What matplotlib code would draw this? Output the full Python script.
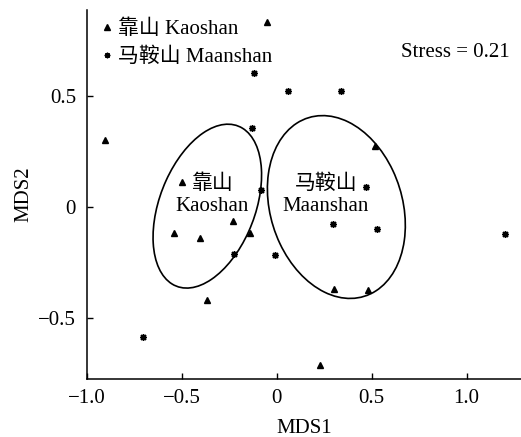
import numpy as np
import matplotlib
matplotlib.use('Agg')
import matplotlib.pyplot as plt
from matplotlib.patches import Ellipse

plt.rcParams['font.family'] = ['Liberation Serif', 'Noto Sans CJK SC']
plt.rcParams['axes.unicode_minus'] = True

# NMDS site scores, two hills
kaoshan_x = [-0.906, -0.051, 0.520, -0.500, -0.540, -0.402, -0.233, -0.142, -0.367, 0.304, 0.481, 0.227]
kaoshan_y = [0.300, 0.832, 0.273, 0.110, -0.120, -0.140, -0.066, -0.120, -0.420, -0.371, -0.375, -0.714]
maanshan_x = [-0.121, 0.061, 0.341, -0.128, -0.082, 0.468, 0.295, 0.528, 1.203, -0.224, -0.007, -0.707]
maanshan_y = [0.601, 0.523, 0.523, 0.353, 0.075, 0.090, -0.079, -0.100, -0.123, -0.214, -0.218, -0.586]

# group ellipses: centre, full width, full height, angle (deg)
ell_centers = [(-0.366, 0.003), (0.314, -0.001)]
ell_widths = [0.794, 0.863]
ell_heights = [0.492, 0.680]
ell_angles = [62.1, 118.9]
ell_labels = ['靠山\nKaoshan', '马鞍山\nMaanshan']
label_pos = [(-0.34, 0.052), (0.258, 0.052)]

stress = 0.21

fig = plt.figure(figsize=(5.21, 4.37), dpi=100)
ax = fig.add_axes([0.167, 0.1327, 0.833, 0.844])

ax.plot(kaoshan_x, kaoshan_y, ls='none', marker='^', ms=5, color='black',
        label='靠山 Kaoshan')
ax.plot(maanshan_x, maanshan_y, ls='none', marker=(8, 2, 0), ms=5, mew=1.0,
        color='black', label='马鞍山 Maanshan')

for c, w, h, a in zip(ell_centers, ell_widths, ell_heights, ell_angles):
    ax.add_patch(Ellipse(c, w, h, angle=a, fill=False, ec='black', lw=1.2))
for (lx, ly), txt in zip(label_pos, ell_labels):
    ax.text(lx, ly, txt, ha='center', va='center', fontsize=15, linespacing=1.2)

ax.text(1.229, 0.697, 'Stress = %.2f' % stress, ha='right', va='center', fontsize=15)

leg = ax.legend(loc='upper left', bbox_to_anchor=(0.0, 1.015), frameon=False,
                fontsize=15, handlelength=0.5, handletextpad=0.3,
                labelspacing=0.42, borderaxespad=0.3, markerscale=0.8)

ax.set_xlim(-1.0, 1.287)
ax.set_ylim(-0.776, 0.886)
ax.set_xticks([-1.0, -0.5, 0, 0.5, 1.0])
ax.set_xticklabels(['−1.0', '−0.5', '0', '0.5', '1.0'])
ax.set_yticks([-0.5, 0, 0.5])
ax.set_yticklabels(['−0.5', '0', '0.5'])
ax.tick_params(direction='in', length=4.5, width=1, labelsize=15)
ax.tick_params(axis='x', pad=7)
ax.tick_params(axis='y', pad=8)
ax.spines['top'].set_visible(False)
ax.spines['right'].set_visible(False)
for s in ['left', 'bottom']:
    ax.spines[s].set_linewidth(1.1)

ax.set_xlabel('MDS1', fontsize=15, labelpad=8)
ax.set_ylabel('MDS2', fontsize=15, labelpad=3)

fig.savefig('out.png', dpi=100)
